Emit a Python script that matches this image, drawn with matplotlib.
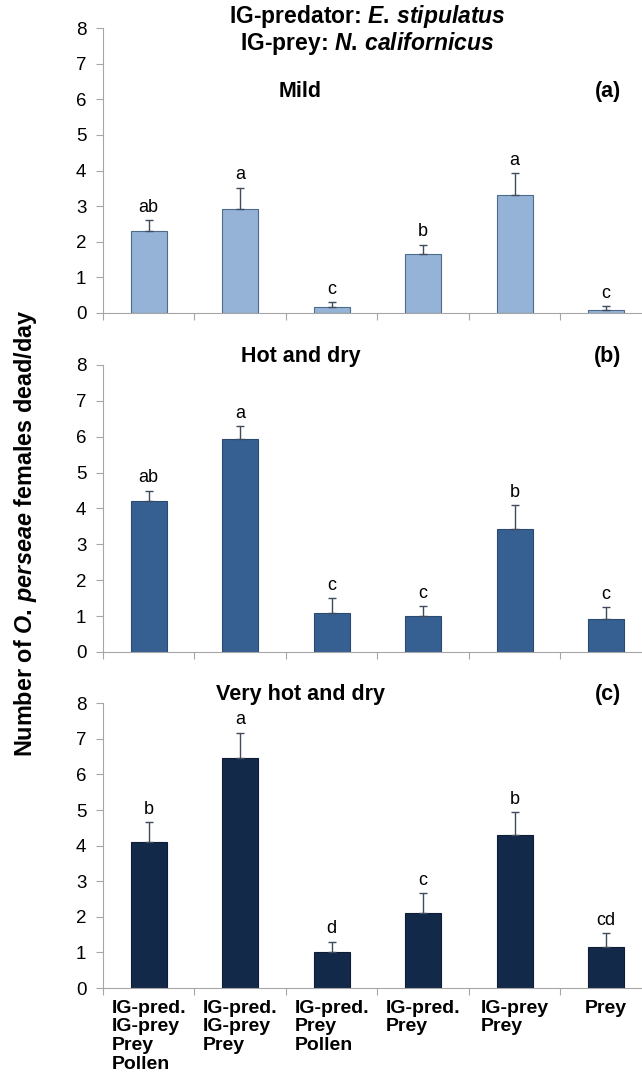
import numpy as np
import matplotlib
matplotlib.use("Agg")
import matplotlib.pyplot as plt

plt.rcParams['font.family'] = ['Liberation Sans', 'DejaVu Sans']
plt.rcParams['mathtext.fontset'] = 'custom'
plt.rcParams['mathtext.it'] = 'Liberation Sans:italic:bold'
plt.rcParams['mathtext.rm'] = 'Liberation Sans:bold'

# data
categories = ["IG-pred.\nIG-prey\nPrey\nPollen", "IG-pred.\nIG-prey\nPrey",
              "IG-pred.\nPrey\nPollen", "IG-pred.\nPrey", "IG-prey\nPrey", "Prey"]

mild_mean = [2.3, 2.92, 0.18, 1.65, 3.3, 0.08]
mild_err = [0.3, 0.6, 0.12, 0.27, 0.62, 0.12]
mild_letters = ["ab", "a", "c", "b", "a", "c"]

hot_mean = [4.2, 5.93, 1.1, 1.0, 3.43, 0.92]
hot_err = [0.3, 0.37, 0.4, 0.28, 0.67, 0.33]
hot_letters = ["ab", "a", "c", "c", "b", "c"]

vhot_mean = [4.1, 6.45, 1.0, 2.1, 4.3, 1.15]
vhot_err = [0.55, 0.72, 0.3, 0.57, 0.65, 0.4]
vhot_letters = ["b", "a", "d", "c", "b", "cd"]

# title, tag, values, fill, edge, [left, bottom, width, height], title y (axes frac)
panels = [
    ("Mild", "(a)", mild_mean, mild_err, mild_letters, '#95b3d7', '#4f6b8c',
     [0.1604, 0.711, 0.855, 0.263], 0.76),
    ("Hot and dry", "(b)", hot_mean, hot_err, hot_letters, '#376092', '#2b4a70',
     [0.1604, 0.398, 0.855, 0.265], 1.01),
    ("Very hot and dry", "(c)", vhot_mean, vhot_err, vhot_letters, '#13294a', '#0d1d35',
     [0.1604, 0.0877, 0.855, 0.263], 1.01),
]

fig = plt.figure(figsize=(6.42, 10.83), dpi=100)
x = np.arange(len(categories)) + 0.5

for i, (title, tag, mean, err, letters, col, ecol, pos, ty) in enumerate(panels):
    ax = fig.add_axes(pos)
    ax.bar(x, mean, width=0.395, color=col, edgecolor=ecol, linewidth=0.8, zorder=2)
    ax.errorbar(x, mean, yerr=[np.zeros(len(mean)), err], fmt='none',
                ecolor='#3f4a5c', elinewidth=1, capsize=2.8, capthick=1, zorder=3)
    for xi, m, e, lab in zip(x, mean, err, letters):
        ax.text(xi, m + e + 0.12, lab, ha='center', va='bottom', fontsize=13)
    ax.set_xlim(0, 6)
    ax.set_ylim(0, 8)
    ax.set_yticks(range(9))
    ax.set_xticks(np.arange(7))
    ax.set_xticklabels([])
    for s in ['top', 'right']:
        ax.spines[s].set_visible(False)
    for s in ['left', 'bottom']:
        ax.spines[s].set_color('#a6a6a6')
    ax.tick_params(axis='both', colors='#a6a6a6', labelcolor='black', labelsize=13.5, length=5)
    ax.tick_params(axis='y', pad=7)
    ax.text(0.36, ty, title, transform=ax.transAxes,
            ha='center', va='baseline', fontsize=15.5, fontweight='bold')
    ax.text(0.92, ty, tag, transform=ax.transAxes,
            ha='center', va='baseline', fontsize=15.5, fontweight='bold')
    if i == 2:
        for xi, lab in zip(x, categories):
            ax.text(xi, -0.33, lab, ha='center', va='top', multialignment='left',
                    fontsize=14, fontweight='bold', linespacing=1.13)

fig.text(0.572, 0.9788, r"IG-predator: $\mathit{E.\,stipulatus}$", ha='center',
         va='baseline', fontsize=16.5, fontweight='bold')
fig.text(0.572, 0.9538, r"IG-prey: $\mathit{N.\,californicus}$", ha='center',
         va='baseline', fontsize=16.5, fontweight='bold')
fig.text(0.04, 0.508, r"Number of $\mathit{O.\,perseae}$ females dead/day", rotation=90,
         ha='center', va='center', fontsize=16.8, fontweight='bold')

fig.savefig("out.png", dpi=100)
